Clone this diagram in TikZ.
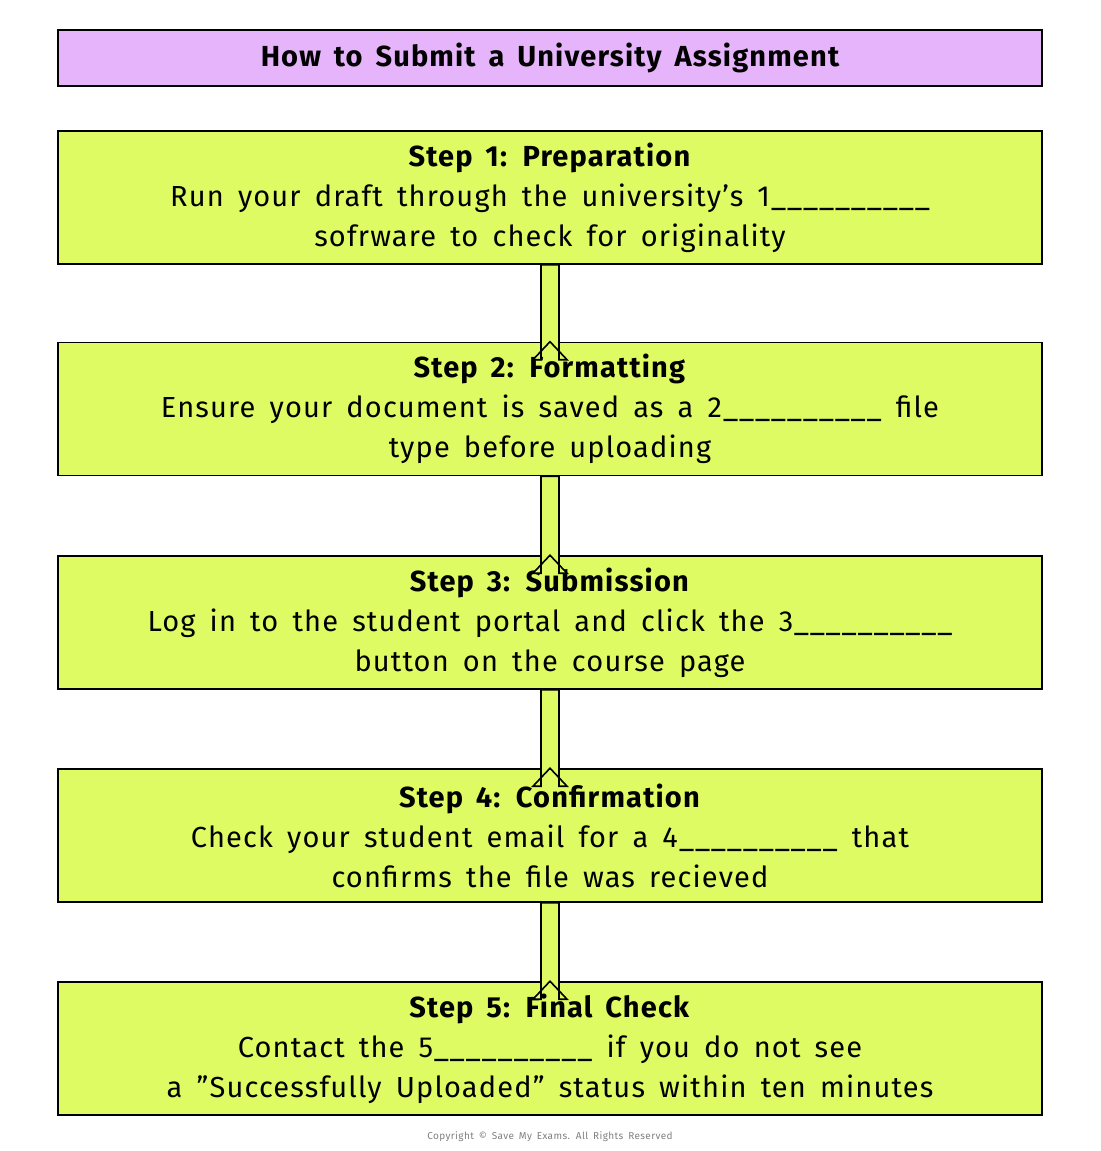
\documentclass[tikz,border=0pt]{standalone}
\usepackage{fontspec}
\setmainfont{Fira Sans}[LetterSpace=4,WordSpace=1.6]
\usepackage{tikz}
\usetikzlibrary{positioning,calc}
\definecolor{step green}{HTML}{DFFB63}
\definecolor{title lilac}{HTML}{E6B4FA}
\newcommand{\blank}{\_\_\_\_\_\_\_\_\_\_}
\newcommand{\flowarrow}[2]{%
  \fill[step green,draw=black,line width=0.8pt]
    ($(#1.south)+(-9,0)$) -- ($(#2.north)+(-9,18)$) -- ($(#2.north)+(-17,18)$)
    -- (#2.north) -- ($(#2.north)+(17,18)$) -- ($(#2.north)+(9,18)$)
    -- ($(#1.south)+(9,0)$) -- cycle;}
\begin{document}
\begin{tikzpicture}[x=0.5pt,y=-0.5pt,
  stepbox/.style={draw=black,line width=0.8pt,fill=step green,minimum width=492pt,
    minimum height=66.5pt,align=center,font=\fontsize{14.5}{20}\selectfont,inner sep=0pt},
  titlebox/.style={draw=black,line width=0.8pt,fill=title lilac,minimum width=492pt,
    minimum height=28pt,font=\fontsize{14.5}{18}\selectfont\bfseries}]
\useasboundingbox[fill=white] (0,0) rectangle (1100,1151);
% title
\node[titlebox] (title) at (550,58) {How to Submit a University Assignment};
% steps
\node[stepbox] (step1) at (550,197.5) {\textbf{Step 1: Preparation}\\Run your draft through the university’s 1\blank\\sofrware to check for originality};
\node[stepbox] (step2) at (550,409) {\textbf{Step 2: Formatting}\\Ensure your document is saved as a 2\blank{} file\\type before uploading};
\node[stepbox] (step3) at (550,622.5) {\textbf{Step 3: Submission}\\Log in to the student portal and click the 3\blank\\button on the course page};
\node[stepbox] (step4) at (550,835.5) {\textbf{Step 4: Confirmation}\\Check your student email for a 4\blank{} that\\confirms the file was recieved};
\node[stepbox] (step5) at (550,1048.5) {\textbf{Step 5: Final Check}\\Contact the 5\blank{} if you do not see\\a "Successfully Uploaded" status within ten minutes};
% arrows
\flowarrow{step1}{step2}
\flowarrow{step2}{step3}
\flowarrow{step3}{step4}
\flowarrow{step4}{step5}
\node[text=gray,font=\fontsize{5}{6}\selectfont] (copy) at (550,1137) {Copyright © Save My Exams. All Rights Reserved};
\end{tikzpicture}
\end{document}
